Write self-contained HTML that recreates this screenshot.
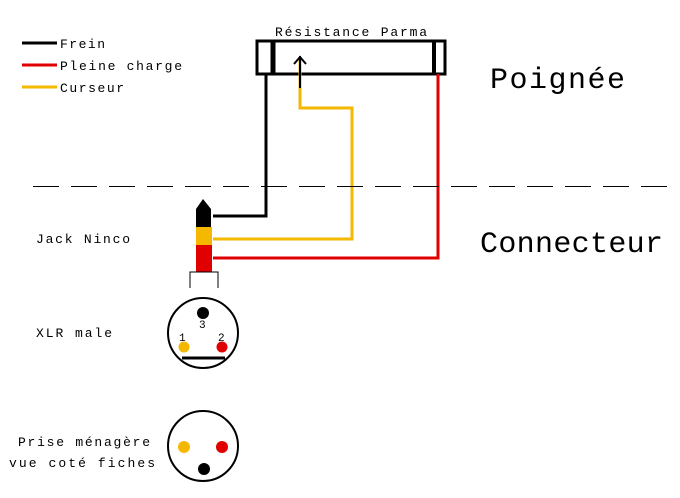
<!DOCTYPE html>
<html><head><meta charset="utf-8"><style>
html,body{margin:0;padding:0;background:#fff;width:680px;height:498px;overflow:hidden}
text{font-family:"Liberation Mono","DejaVu Sans Mono",monospace;fill:#000}
</style></head><body>
<svg width="680" height="498" viewBox="0 0 680 498" xmlns="http://www.w3.org/2000/svg">
<line x1="22" y1="43" x2="57" y2="43" stroke="#000" stroke-width="3"/>
<line x1="22" y1="65" x2="57" y2="65" stroke="#e00000" stroke-width="3"/>
<line x1="22" y1="87" x2="57" y2="87" stroke="#f5b800" stroke-width="3"/>
<text x="60" y="48" font-size="13" textLength="45">Frein</text>
<text x="60" y="70" font-size="13" textLength="122">Pleine charge</text>
<text x="60" y="92" font-size="13" textLength="64">Curseur</text>
<text x="275" y="36" font-size="13" textLength="152">Résistance Parma</text>
<rect x="257" y="41" width="188" height="33" fill="none" stroke="#000" stroke-width="3"/>
<line x1="273" y1="41" x2="273" y2="74" stroke="#000" stroke-width="5"/>
<line x1="434" y1="41" x2="434" y2="74" stroke="#000" stroke-width="4"/>
<polyline points="266,74 266,216 213,216" fill="none" stroke="#000" stroke-width="3"/>
<polyline points="300,60 300,108 352,108 352,239 213,239" fill="none" stroke="#f5b800" stroke-width="3"/>
<line x1="300" y1="56" x2="300" y2="88" stroke="#000" stroke-width="2"/>
<polyline points="294,64 300,57 306,64" fill="none" stroke="#000" stroke-width="2"/>
<polyline points="438,74 438,258 213,258" fill="none" stroke="#e00000" stroke-width="3"/>
<line x1="33" y1="186.5" x2="673" y2="186.5" stroke="#000" stroke-width="1" stroke-dasharray="26,12" shape-rendering="crispEdges"/>
<text x="490" y="88" font-size="30" textLength="135">Poignée</text>
<text x="480" y="252" font-size="30" textLength="183">Connecteur</text>
<text x="36" y="243" font-size="13" textLength="94">Jack Ninco</text>
<text x="36" y="337" font-size="13" textLength="76">XLR male</text>
<text x="150" y="446" font-size="13" text-anchor="end" textLength="132">Prise ménagère</text>
<text x="155" y="467" font-size="13" text-anchor="end" textLength="146">vue coté fiches</text>
<polygon points="196,227 196,209 203,199 211,209 211,227" fill="#000"/>
<rect x="196" y="227" width="16" height="18" fill="#f5b800"/>
<rect x="196" y="245" width="16" height="27" fill="#e00000"/>
<polyline points="190,288 190,272 218,272 218,288" fill="none" stroke="#000" stroke-width="1"/>
<circle cx="203" cy="333" r="35" fill="none" stroke="#000" stroke-width="2"/>
<circle cx="203" cy="313" r="6" fill="#000"/>
<circle cx="184" cy="347" r="5.5" fill="#f5b800"/>
<circle cx="222" cy="347" r="5.5" fill="#e00000"/>
<line x1="182" y1="358" x2="225" y2="358" stroke="#000" stroke-width="3"/>
<text x="199" y="328" font-size="11">3</text>
<text x="179" y="341" font-size="11">1</text>
<text x="218" y="341" font-size="11">2</text>
<circle cx="203" cy="446" r="35" fill="none" stroke="#000" stroke-width="2"/>
<circle cx="184" cy="447" r="6" fill="#f5b800"/>
<circle cx="222" cy="447" r="6" fill="#e00000"/>
<circle cx="204" cy="469" r="6" fill="#000"/>
</svg>
</body></html>
